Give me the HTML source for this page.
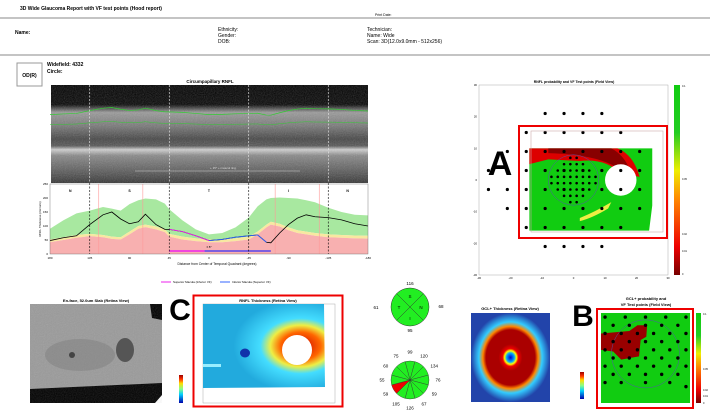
<!DOCTYPE html>
<html><head><meta charset="utf-8"><style>
body{margin:0;background:#fff;}
svg text{font-family:"Liberation Sans",sans-serif;}
</style></head><body>
<svg id="s" width="710" height="410" viewBox="0 0 710 410" xmlns="http://www.w3.org/2000/svg">
<defs>
<filter id="noise" x="0" y="0" width="100%" height="100%"><feTurbulence type="fractalNoise" baseFrequency="0.9" numOctaves="2" seed="3"/><feColorMatrix type="saturate" values="0"/><feComponentTransfer><feFuncA type="linear" slope="0.55"/></feComponentTransfer><feComposite in2="SourceGraphic" operator="in"/></filter>
<linearGradient id="bsg" x1="0" y1="0" x2="0" y2="1">
<stop offset="0" stop-color="#000"/><stop offset="0.2" stop-color="#050505"/><stop offset="0.28" stop-color="#9a9a9a"/><stop offset="0.42" stop-color="#777"/><stop offset="0.55" stop-color="#444"/><stop offset="0.62" stop-color="#555"/><stop offset="0.66" stop-color="#d0d0d0"/><stop offset="0.72" stop-color="#888"/><stop offset="0.9" stop-color="#555"/><stop offset="1" stop-color="#333"/></linearGradient>
<linearGradient id="cbA" x1="0" y1="1" x2="0" y2="0"><stop offset="0" stop-color="#700"/><stop offset="0.15" stop-color="#e00"/><stop offset="0.4" stop-color="#f80"/><stop offset="0.55" stop-color="#ee0"/><stop offset="0.75" stop-color="#2c2"/><stop offset="1" stop-color="#1c1"/></linearGradient>
<linearGradient id="jet" x1="0" y1="1" x2="0" y2="0"><stop offset="0" stop-color="#00a"/><stop offset="0.3" stop-color="#0cf"/><stop offset="0.5" stop-color="#8f8"/><stop offset="0.7" stop-color="#fd0"/><stop offset="0.85" stop-color="#f30"/><stop offset="1" stop-color="#900"/></linearGradient>
<radialGradient id="gclg" cx="0.5" cy="0.5" r="0.5"><stop offset="0" stop-color="#00c"/><stop offset="0.1" stop-color="#0af"/><stop offset="0.15" stop-color="#ff0"/><stop offset="0.2" stop-color="#e00"/><stop offset="0.3" stop-color="#a00"/><stop offset="0.62" stop-color="#a00"/><stop offset="0.7" stop-color="#f80"/><stop offset="0.8" stop-color="#3cf"/><stop offset="1" stop-color="#24a"/></radialGradient>
<radialGradient id="rnflg" cx="0.8" cy="0.5" r="0.55"><stop offset="0" stop-color="#c00"/><stop offset="0.3" stop-color="#f60"/><stop offset="0.45" stop-color="#ee4"/><stop offset="0.6" stop-color="#4df"/><stop offset="1" stop-color="#2ad"/></radialGradient>
</defs>
<g id="header" font-size="5">
<text x="20" y="10" font-weight="bold">3D Wide Glaucoma Report with VF test points (Hood report)</text>
<text x="375" y="16" font-size="3.5">Print Date:</text>
<line x1="0" y1="18" x2="710" y2="18" stroke="#888"/>
<text x="15" y="34" font-weight="bold">Name:</text>
<text x="218" y="31">Ethnicity:</text>
<text x="218" y="37">Gender:</text>
<text x="218" y="43">DOB:</text>
<text x="367" y="31">Technician:</text>
<text x="367" y="37">Name: Wide</text>
<text x="367" y="43">Scan: 3D(12.0x9.0mm - 512x256)</text>
<line x1="0" y1="55" x2="710" y2="55" stroke="#888"/>
<rect x="17" y="63" width="25" height="23" fill="#fff" stroke="#999"/>
<text x="29.5" y="77" text-anchor="middle" font-weight="bold">OD(R)</text>
<text x="47" y="66" font-weight="bold">Widefield: 4332</text>
<text x="47" y="73" font-weight="bold">Circle:</text>
</g>
<text x="210" y="83" font-size="4.5" font-weight="bold" text-anchor="middle">Circumpapillary RNFL</text>
<g>
<rect x="51" y="85" width="317" height="98" fill="url(#bsg)"/>
<rect x="51" y="85" width="317" height="98" fill="#fff" filter="url(#noise)" opacity="0.5"/>
<path id="ilm" fill="none" stroke="#3c3" stroke-width="0.7"/>
<path id="rnflb" fill="none" stroke="#3c3" stroke-width="0.5"/>
<line x1="135" y1="171" x2="300" y2="171" stroke="#ccc" stroke-width="0.6"/>
<text x="210" y="169" font-size="3" fill="#ddd">+ 15° + mascul ring</text>
</g>
<g id="chart"></g>
<g id="pmapA"></g>
<g id="bottom">
<text x="96" y="302" font-size="4" font-weight="bold" text-anchor="middle">En-face, 52.0um Slab (Retina View)</text>
<g>
<polygon points="30,304 150,304 162,304 162,395 155,403 30,403" fill="#000"/>
<polygon points="30,304 150,304 152,318 162,320 162,383 30,389" fill="#9a9a9a"/>
<rect x="30" y="304" width="132" height="99" fill="#fff" filter="url(#noise)" opacity="0.35"/>
<ellipse cx="80" cy="355" rx="35" ry="16" fill="#777" opacity="0.4"/>
<ellipse cx="72" cy="355" rx="3" ry="3" fill="#444"/>
<ellipse cx="125" cy="350" rx="9" ry="12" fill="#555"/>
</g>
<rect x="179" y="375" width="4" height="28" fill="url(#jet)"/>
<text x="180" y="320" font-size="30" font-weight="bold" text-anchor="middle">C</text>
<rect x="193.5" y="295.5" width="149" height="111" fill="none" stroke="#e00" stroke-width="2"/>
<text x="268" y="302" font-size="4" font-weight="bold" text-anchor="middle">RNFL Thickness (Retina View)</text>
<rect x="203" y="304" width="132" height="99" fill="#fff" stroke="#aaa" stroke-width="0.5"/>
<polygon points="203,304 324,304 325,387 203,388" fill="url(#rnflg)"/>
<ellipse cx="245" cy="353" rx="5" ry="4.5" fill="#13a"/>
<rect x="203" y="364" width="18" height="3" fill="#9ef"/>
<circle cx="297" cy="350" r="15" fill="#fff"/>
<g>
<circle cx="410" cy="307" r="19" fill="#2e2" stroke="#333" stroke-width="0.5"/>
<line x1="396.6" y1="293.6" x2="423.4" y2="320.4" stroke="#333" stroke-width="0.5"/>
<line x1="423.4" y1="293.6" x2="396.6" y2="320.4" stroke="#333" stroke-width="0.5"/>
<g font-size="4.5" text-anchor="middle"><text x="410" y="298">S</text><text x="399" y="309">T</text><text x="421" y="309">N</text><text x="410" y="320">I</text>
<text x="410" y="285">116</text><text x="376" y="309">61</text><text x="441" y="308">68</text><text x="410" y="332">95</text></g>
</g>
<g id="clock"></g>
<text x="510" y="310" font-size="4" font-weight="bold" text-anchor="middle">GCL+ Thickness (Retina View)</text>
<rect x="471" y="313" width="79" height="89" fill="url(#gclg)"/>
<rect x="580" y="372" width="4" height="27" fill="url(#jet)"/>
<text x="583" y="326" font-size="30" font-weight="bold" text-anchor="middle">B</text>
<text x="646" y="300" font-size="4" font-weight="bold" text-anchor="middle">GCL+ probability and</text>
<text x="646" y="306" font-size="4" font-weight="bold" text-anchor="middle">VF Test points (Field View)</text>
<g id="pmapB"></g>
<rect x="597" y="309" width="96" height="99" fill="none" stroke="#e00" stroke-width="2"/>
<rect x="696" y="313" width="5" height="90" fill="url(#cbA)"/>
<g font-size="2.5"><text x="703" y="315">0.1</text><text x="703" y="370">0.05</text><text x="703" y="391">0.02</text><text x="703" y="397">0.01</text><text x="703" y="404">0</text></g>
</g>
</svg>
<script>
const NS="http://www.w3.org/2000/svg";
function mk(p,t,a){const e=document.createElementNS(NS,t);for(const k in a)e.setAttribute(k,a[k]);p.appendChild(e);return e;}
// ---- RNFL chart data ----
const degs=[180,165,150,135,120,110,100,90,80,72,60,50,45,30,15,0,-15,-30,-45,-55,-65,-70,-80,-90,-100,-110,-120,-135,-150,-165,-180];
const thickness=[48,58,65,105,140,150,125,108,115,142,105,88,88,80,65,48,52,60,65,68,42,40,75,105,128,140,133,130,122,108,100];
const normalUpper=[90,120,145,155,168,162,155,178,192,198,195,180,160,120,88,70,75,95,130,170,195,200,202,200,198,192,185,165,150,140,138];
const normalMid=[52,60,68,72,68,62,60,80,100,105,98,88,72,62,56,52,52,56,62,80,105,115,108,95,85,80,75,70,68,66,65];
const normalLow=[42,50,58,64,60,54,52,70,90,96,88,78,62,52,46,42,42,46,52,70,95,105,98,85,75,70,65,60,58,56,55];
const xTicks=[180,135,90,45,0,-45,-90,-135,-180];
const yTicks=[0,50,100,150,200,250];
const sectors=["N","S","T","I","N"];
const sectorDegs=[157,90,0,-90,-157];
const X=d=>50+(180-d)/360*318, Y=v=>254-v/250*70;
const ch=document.getElementById('chart');
function area(top,bot,fill){let d="M"+degs.map((g,i)=>X(g)+","+Y(top[i])).join("L");d+="L"+degs.map((g,i)=>X(g)+","+Y(bot?bot[i]:0)).reverse().join("L")+"Z";return mk(ch,'path',{d:d,fill:fill});}
let a1=area(normalUpper,normalMid,"#a8e8a0");


let a2=area(normalMid,normalLow,"#f8e8a0");


let a3=area(normalLow,null,"#f8b0b0");


[125,75,-75,-125].forEach(g=>mk(ch,'line',{x1:X(g),y1:184,x2:X(g),y2:254,stroke:"#f99",'stroke-width':1,opacity:0.6}));
mk(ch,'path',{d:"M"+degs.map((g,i)=>X(g)+","+Y(thickness[i])).join("L"),fill:"none",stroke:"#000",'stroke-width':0.8,});
const magIdx=degs.map((g,i)=>i).filter(i=>degs[i]<=45 && degs[i]>=0);
const bluIdx=degs.map((g,i)=>i).filter(i=>degs[i]<=0 && degs[i]>=-65);
mk(ch,'path',{d:"M"+magIdx.map(i=>X(degs[i])+","+Y(thickness[i])).join("L"),fill:"none",stroke:"#e2e",'stroke-width':0.9});
mk(ch,'path',{d:"M"+bluIdx.map(i=>X(degs[i])+","+Y(thickness[i])).join("L"),fill:"none",stroke:"#36f",'stroke-width':0.9});
mk(ch,'line',{x1:X(45),y1:251,x2:X(5),y2:251,stroke:"#e2e",'stroke-width':1.5});
mk(ch,'line',{x1:X(5),y1:251,x2:X(-70),y2:251,stroke:"#54e",'stroke-width':1.5});
const t8=mk(ch,'text',{x:X(0),y:248,'font-size':3,'text-anchor':'middle'});t8.textContent="± 8°";
[135,45,-45,-135].forEach(g=>mk(ch,'line',{x1:X(g),y1:85,x2:X(g),y2:254,stroke:"#000",'stroke-dasharray':"2,1.5",'stroke-width':0.6}));
[135,45,-45,-135].forEach(g=>mk(ch,'line',{x1:X(g),y1:85,x2:X(g),y2:183,stroke:"#fff",'stroke-dasharray':"2,1.5",'stroke-width':0.6}));
mk(ch,'rect',{x:50,y:184,width:318,height:70,fill:"none",stroke:"#666",'stroke-width':0.4});
sectors.forEach((s,i)=>{const t=mk(ch,'text',{x:X(sectorDegs[i]),y:192,'font-size':3.5,'text-anchor':'middle','font-weight':'bold'});t.textContent=s;

});
xTicks.forEach(v=>{const t=mk(ch,'text',{x:X(v),y:259,'font-size':3,'text-anchor':'middle'});t.textContent=v;

});
yTicks.forEach(v=>{const t=mk(ch,'text',{x:48,y:Y(v)+1,'font-size':3,'text-anchor':'end'});t.textContent=v;

});
let xt=mk(ch,'text',{x:217,y:265,'font-size':3.3,'text-anchor':'middle'});xt.textContent="Distance from Center of Temporal Quadrant (degrees)";


let yt=mk(ch,'text',{x:41,y:219,'font-size':3,'text-anchor':'middle',transform:"rotate(-90 41 219)"});yt.textContent="RNFL Thickness (microns)";


mk(ch,'line',{x1:161,y1:282,x2:171,y2:282,stroke:"#e2e",'stroke-width':1});
let lg1=mk(ch,'text',{x:173,y:283,'font-size':3});lg1.textContent="Superior Macula (Inferior VF)";


mk(ch,'line',{x1:220,y1:282,x2:230,y2:282,stroke:"#36f",'stroke-width':1});
let lg2=mk(ch,'text',{x:232,y:283,'font-size':3});lg2.textContent="Inferior Macula (Superior VF)";


document.getElementById('ilm').setAttribute('d',"M"+degs.map((g,i)=>X(g)+","+(118-thickness[i]*0.07)).join("L"));
document.getElementById('rnflb').setAttribute('d',"M"+degs.map((g,i)=>X(g)+","+(126-thickness[i]*0.03)).join("L"));
// ---- Probability map A ----
const vfX=[-9,-3,3,9, -15,-9,-3,3,9,15, -21,-15,-9,-3,3,9,15,21, -27,-21,-15,-9,-3,3,9,15,21, -27,-21,-15,-9,-3,3,9,15,21, -21,-15,-9,-3,3,9,15,21, -15,-9,-3,3,9,15, -9,-3,3,9];
const vfY=[21,21,21,21, 15,15,15,15,15,15, 9,9,9,9,9,9,9,9, 3,3,3,3,3,3,3,3,3, -3,-3,-3,-3,-3,-3,-3,-3,-3, -9,-9,-9,-9,-9,-9,-9,-9, -15,-15,-15,-15,-15,-15, -21,-21,-21,-21];
const tenX=[-1,1,-3,-1,1,3,-5,-3,-1,1,3,5,-7,-5,-3,-1,1,3,5,7,-7,-5,-3,-1,1,3,5,7,-5,-3,-1,1,3,5,-3,-1,1,3,-1,1];
const tenY=[7,7,5,5,5,5,3,3,3,3,3,3,1,1,1,1,1,1,1,1,-1,-1,-1,-1,-1,-1,-1,-1,-3,-3,-3,-3,-3,-3,-5,-5,-5,-5,-7,-7];
const axTicks=[-30,-20,-10,0,10,20,30];
const pA=document.getElementById('pmapA');
const AX=v=>479+(v+30)/60*189, AY=v=>85+(30-v)/60*190;
let tA=mk(pA,'text',{x:574,y:83,'font-size':3.5,'font-weight':'bold','text-anchor':'middle'});tA.textContent="RNFL probability and VF Test points (Field View)";
mk(pA,'rect',{x:479,y:85,width:189,height:190,fill:"#fff",stroke:"#999",'stroke-width':0.4});
mk(pA,'polygon',{points:`${AX(-14)},${AY(10)} ${AX(25)},${AY(10)} ${AX(25)},${AY(-8)} ${AX(24)},${AY(-16)} ${AX(-14)},${AY(-16)}`,fill:"#1c1"});
mk(pA,'path',{d:`M${AX(-14)},${AY(10)} L${AX(14)},${AY(10)} Q${AX(19)},${AY(8)} ${AX(21)},${AY(1)} L${AX(15)},${AY(2)} Q${AX(10)},${AY(7)} ${AX(2)},${AY(6)} L${AX(-8)},${AY(6.5)} L${AX(-14)},${AY(5)}Z`,fill:"#d00"});
mk(pA,'path',{d:`M${AX(-8)},${AY(10)} L${AX(12)},${AY(10)} Q${AX(16)},${AY(8)} ${AX(18)},${AY(3)} L${AX(15)},${AY(3)} Q${AX(9)},${AY(8)} ${AX(-8)},${AY(8.5)}Z`,fill:"#800"});
mk(pA,'circle',{cx:AX(15),cy:AY(0),r:AX(5)-AX(0),fill:"#fff"});
mk(pA,'path',{d:`M${AX(2)},${AY(-12)} Q${AX(7)},${AY(-10)} ${AX(12)},${AY(-7)} L${AX(11)},${AY(-9)} Q${AX(6)},${AY(-12)} ${AX(2)},${AY(-13)}Z`,fill:"#ee4"});
mk(pA,'circle',{cx:AX(0),cy:AY(0),r:AX(8)-AX(0),fill:"none",stroke:"#55a",'stroke-width':0.5});
vfX.forEach((x,i)=>{const c=mk(pA,'circle',{cx:AX(x),cy:AY(vfY[i]),r:1.6,fill:"#000"});

});
tenX.forEach((x,i)=>{const c=mk(pA,'circle',{cx:AX(x),cy:AY(tenY[i]),r:1.3,fill:"#000"});

});
axTicks.forEach(v=>{let t=mk(pA,'text',{x:AX(v),y:279,'font-size':2.8,'text-anchor':'middle'});t.textContent=v;let u=mk(pA,'text',{x:477,y:AY(v)+1,'font-size':2.8,'text-anchor':'end'});u.textContent=v;});
mk(pA,'rect',{x:674,y:85,width:6,height:190,fill:"url(#cbA)",});
[["0.1",87],["0.05",180],["0.02",235],["0.01",252],["0",275]].forEach(a=>{let t=mk(pA,'text',{x:682,y:a[1],'font-size':2.5});t.textContent=a[0];});
mk(pA,'rect',{x:519,y:126,width:148,height:112,fill:"none",stroke:"#e00",'stroke-width':2,});
mk(pA,'rect',{x:531,y:131,width:132,height:101,fill:"none",stroke:"#caa",'stroke-width':0.6});
let la=mk(pA,'text',{x:500,y:175,'font-size':34,'font-weight':'bold','text-anchor':'middle'});la.textContent="A";


// ---- Clock pie ----
const clockVals=[99,120,134,76,59,67,126,105,59,55,60,75];
const clockRed=[false,false,false,false,false,false,false,false,true,false,false,false];
const ck=document.getElementById('clock');const ccx=410,ccy=380,cr=19;
clockVals.forEach((v,i)=>{const b0=(-90-15+i*30)*Math.PI/180,b1=b0+30*Math.PI/180;
const p=mk(ck,'path',{d:`M${ccx},${ccy} L${ccx+cr*Math.cos(b0)},${ccy+cr*Math.sin(b0)} A${cr},${cr} 0 0 1 ${ccx+cr*Math.cos(b1)},${ccy+cr*Math.sin(b1)}Z`,fill:clockRed[i]?"#e00":"#2e2",stroke:"#333",'stroke-width':0.4});


const am=(b0+b1)/2;const t=mk(ck,'text',{x:ccx+(cr+9)*Math.cos(am),y:ccy+(cr+9)*Math.sin(am)+1.5,'font-size':4.5,'text-anchor':'middle'});t.textContent=v;});
// ---- Probability map B ----
const bX=[-5,-2.5,0,2.5,5,-4,-2,0,2,4,-5,-3,-1,1,3,5,-4,-2,0,2,4,-5,-3,-1,1,3,5,-4,-2,0,2,4,-5,-3,-1,1,3,5,-4,-2,0,2,4,-5,-3,0,3,5];
const bY=[5,5,5,5,5,4,4,4,4,4,3,3,3,3,3,3,2,2,2,2,2,1,1,1,1,1,1,0,0,0,0,0,-1,-1,-1,-1,-1,-1,-2,-2,-2,-2,-2,-3,-3,-3,-3,-3.5];
const pB=document.getElementById('pmapB');
const BX=v=>601+(v+5.5)/11*89, BY=v=>313+(5.5-v)/11*90;
mk(pB,'rect',{x:601,y:313,width:89,height:90,fill:"#1c1"});
mk(pB,'path',{d:`M${BX(-5.5)},${BY(3)} L${BX(-2)},${BY(3.3)} L${BX(-1)},${BY(4)} L${BX(0.2)},${BY(4)} L${BX(0.1)},${BY(2.6)} L${BX(-0.6)},${BY(2.2)} L${BX(-0.8)},${BY(0.2)} L${BX(-3)},${BY(-0.2)} L${BX(-4)},${BY(0.8)} L${BX(-5.5)},${BY(1)}Z`,fill:"#900"});
mk(pB,'circle',{cx:BX(0),cy:BY(0.5),r:34,fill:"none",stroke:"#55a",'stroke-width':0.5});
bX.forEach((x,i)=>{const c=mk(pB,'circle',{cx:BX(x),cy:BY(bY[i]),r:1.7,fill:"#000"});

});
</script>
</body></html>
